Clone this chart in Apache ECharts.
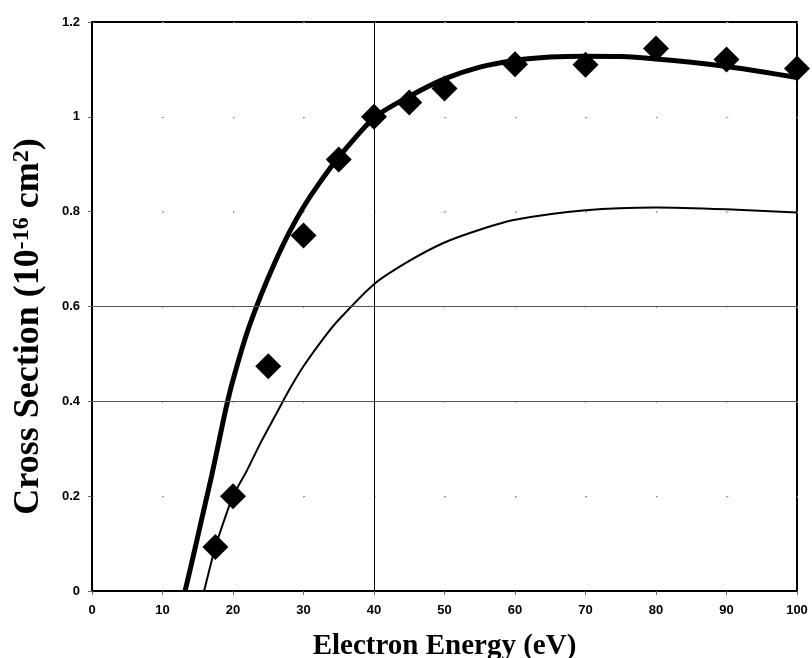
<!DOCTYPE html>
<html>
<head>
<meta charset="utf-8">
<script src="https://cdn.jsdelivr.net/npm/echarts@6/dist/echarts.min.js"></script>
<style>html,body{margin:0;padding:0;background:#fff}#c{width:812px;height:658px}</style>
</head>
<body>
<div id="c"></div>
<script>
// measured data (diamonds)
var measX = [17.5, 20, 25, 30, 35, 40, 45, 50, 60, 70, 80, 90, 100];
var measY = [0.093, 0.2, 0.474, 0.75, 0.91, 1.0, 1.03, 1.06, 1.111, 1.11, 1.144, 1.121, 1.102];
// thick curve
var thickX = [13.2, 14, 15, 16, 17, 18, 19, 20, 22, 24, 26, 28, 30, 32, 35, 40, 45, 50, 55, 60, 65, 70, 75, 80, 85, 90, 95, 100];
var thickY = [0, 0.05, 0.115, 0.18, 0.245, 0.315, 0.385, 0.445, 0.545, 0.625, 0.695, 0.757, 0.81, 0.855, 0.915, 0.998, 1.043, 1.08, 1.105, 1.119, 1.126, 1.128, 1.127, 1.122, 1.115, 1.106, 1.095, 1.083];
// thin curve
var thinX = [15.9, 17.5, 19, 20, 22, 24, 26, 28, 30, 33, 35, 40, 45, 50, 55, 60, 70, 80, 90, 100];
var thinY = [0, 0.093, 0.16, 0.2, 0.255, 0.315, 0.37, 0.425, 0.474, 0.536, 0.572, 0.647, 0.696, 0.735, 0.762, 0.783, 0.803, 0.809, 0.805, 0.798];

function pairs(xs, ys) { return xs.map(function (x, i) { return [x, ys[i]]; }); }

var chart = echarts.init(document.getElementById('c'));
chart.setOption({
  animation: false,
  backgroundColor: '#fff',
  grid: {left: 92, right: 15, top: 22, bottom: 67, outerBoundsMode: 'none', containLabel: false,
         show: true, borderColor: '#000', borderWidth: 2, backgroundColor: 'transparent'},
  xAxis: {
    type: 'value', min: 0, max: 100, interval: 10,
    name: 'Electron Energy (eV)', nameLocation: 'middle', nameGap: 41,
    nameTextStyle: {fontFamily: 'Liberation Serif', fontWeight: 'bold', fontSize: 29, color: '#000'},
    axisLine: {show: true, onZero: false, lineStyle: {color: '#000', width: 2}},
    axisTick: {show: true, length: 4, lineStyle: {color: '#666'}},
    axisLabel: {fontFamily: 'Liberation Sans', fontWeight: 'bold', fontSize: 13, color: '#000', margin: 13},
    splitLine: {show: true, lineStyle: {color: '#999', width: 1, type: [1.5, 93.34]}}
  },
  yAxis: {
    type: 'value', min: 0, max: 1.2, interval: 0.2,
    name: '{a|Cross Section (10}{s|-16}{a| cm}{s|2}{a|)}', nameLocation: 'middle', nameGap: 44, nameRotate: 90,
    nameTextStyle: {
      padding: [0, 40, 0, 0],
      rich: {
        a: {fontFamily: 'Liberation Serif', fontWeight: 'bold', fontSize: 36, color: '#000', lineHeight: 38},
        s: {fontFamily: 'Liberation Serif', fontWeight: 'bold', fontSize: 24, color: '#000', lineHeight: 22, verticalAlign: 'top'}
      }
    },
    axisLine: {show: true, onZero: false, lineStyle: {color: '#000', width: 2}},
    axisTick: {show: true, length: 4, lineStyle: {color: '#666'}},
    axisLabel: {fontFamily: 'Liberation Sans', fontWeight: 'bold', fontSize: 13, color: '#000', margin: 12},
    splitLine: {show: true, lineStyle: {color: '#999', width: 1, type: [1.5, 69.05]}}
  },
  series: [
    {
      type: 'line', data: pairs(thinX, thinY), showSymbol: false, smooth: 0.25,
      lineStyle: {color: '#000', width: 2}, z: 3,
      markLine: {
        silent: true, symbol: ['none', 'none'], label: {show: false},
        data: [
          {yAxis: 0.4, lineStyle: {color: '#555', width: 1, type: 'solid'}},
          {yAxis: 0.6, lineStyle: {color: '#555', width: 1, type: 'solid'}},
          {xAxis: 40, lineStyle: {color: '#000', width: 1, type: 'solid'}}
        ]
      }
    },
    {
      type: 'line', data: pairs(thickX, thickY), showSymbol: false, smooth: 0.25,
      lineStyle: {color: '#000', width: 5}, z: 4
    },
    {
      type: 'scatter', data: pairs(measX, measY), symbol: 'diamond', symbolSize: 26,
      itemStyle: {color: '#000', opacity: 1}, z: 5
    }
  ]
});
</script>
</body>
</html>
